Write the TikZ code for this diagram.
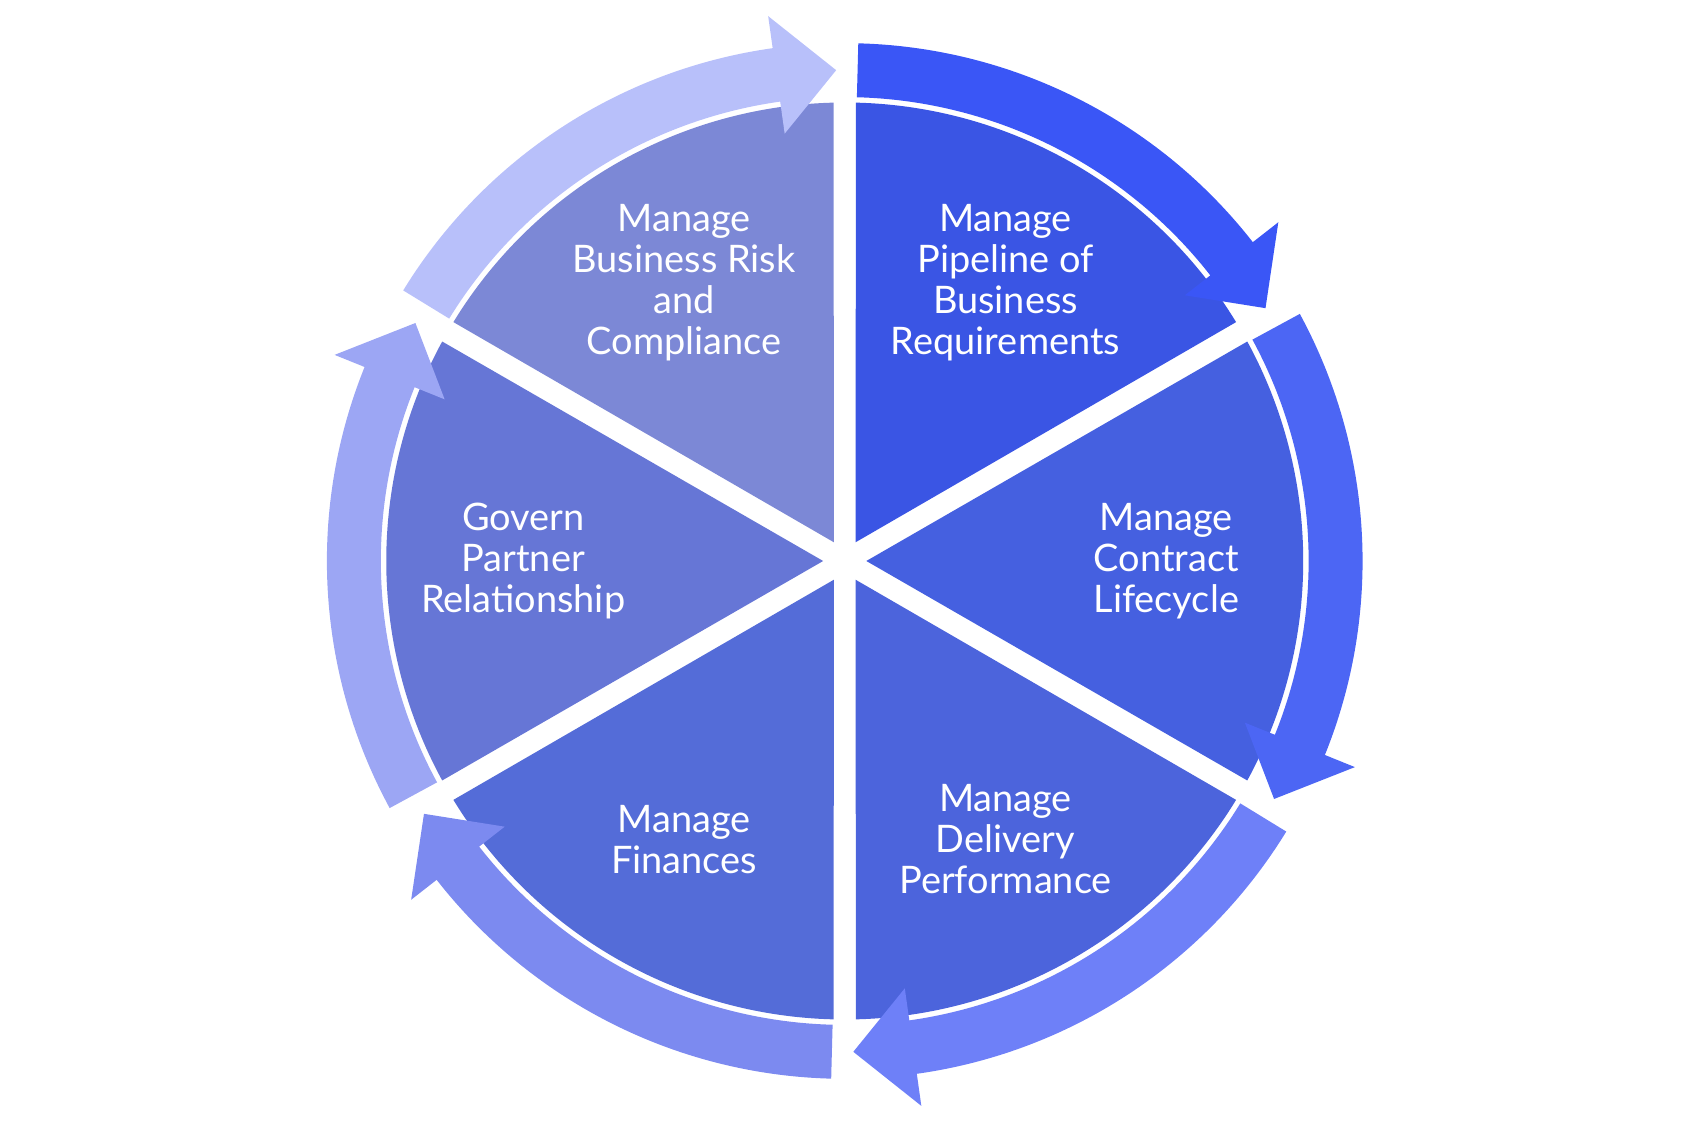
\documentclass[tikz,border=0pt]{standalone}
\usepackage{fontspec}
\setmainfont{Lato}
\definecolor{wedgeA}{HTML}{3A55E4}
\definecolor{wedgeB}{HTML}{4560E0}
\definecolor{wedgeC}{HTML}{4C64DC}
\definecolor{wedgeD}{HTML}{546CD8}
\definecolor{wedgeE}{HTML}{6676D6}
\definecolor{wedgeF}{HTML}{7C88D6}
\definecolor{ringA}{HTML}{3A56F6}
\definecolor{ringB}{HTML}{4C66F4}
\definecolor{ringC}{HTML}{6E80F8}
\definecolor{ringD}{HTML}{7C8AF0}
\definecolor{ringE}{HTML}{9CA6F4}
\definecolor{ringF}{HTML}{B8C0FA}
\tikzset{
  steplabel/.style={text=white,align=center,font=\fontsize{10}{10.8}\selectfont}
}
\begin{document}
\begin{tikzpicture}
\useasboundingbox (-7.83,-5.2) rectangle (7.77,5.2);
% wedges, ring arrows and labels, clockwise from the top
\foreach \k/\wcol/\rcol/\texto in {0/wedgeA/ringA/{Manage\\Pipeline of\\Business\\Requirements},
  1/wedgeB/ringB/{Manage\\Contract\\Lifecycle},
  2/wedgeC/ringC/{Manage\\Delivery\\Performance},
  3/wedgeD/ringD/{Manage\\Finances},
  4/wedgeE/ringE/{Govern\\Partner\\Relationship},
  5/wedgeF/ringF/{Manage\\Business Risk\\and\\Compliance}}
{
  \pgfmathsetmacro{\a}{90-60*\k}
  % the wedge
  \fill[\wcol] (\a-30:0.2) -- (\a-1.4:4.25) arc[start angle=\a-1.4,end angle=\a-58.6,radius=4.25] -- cycle;
  % the ring arrow
  \fill[\rcol] (\a-1.5:4.8) arc[start angle=\a-1.5,end angle=\a-52,radius=4.8]
    -- (\a-52:5.1) -- (\a-59:4.55) -- (\a-52:4.0) -- (\a-52:4.3)
    arc[start angle=\a-52,end angle=\a-1.5,radius=4.3] -- cycle;
  \node[steplabel] (label\k) at (\a-30:2.98) {\texto};
}
\end{tikzpicture}
\end{document}
